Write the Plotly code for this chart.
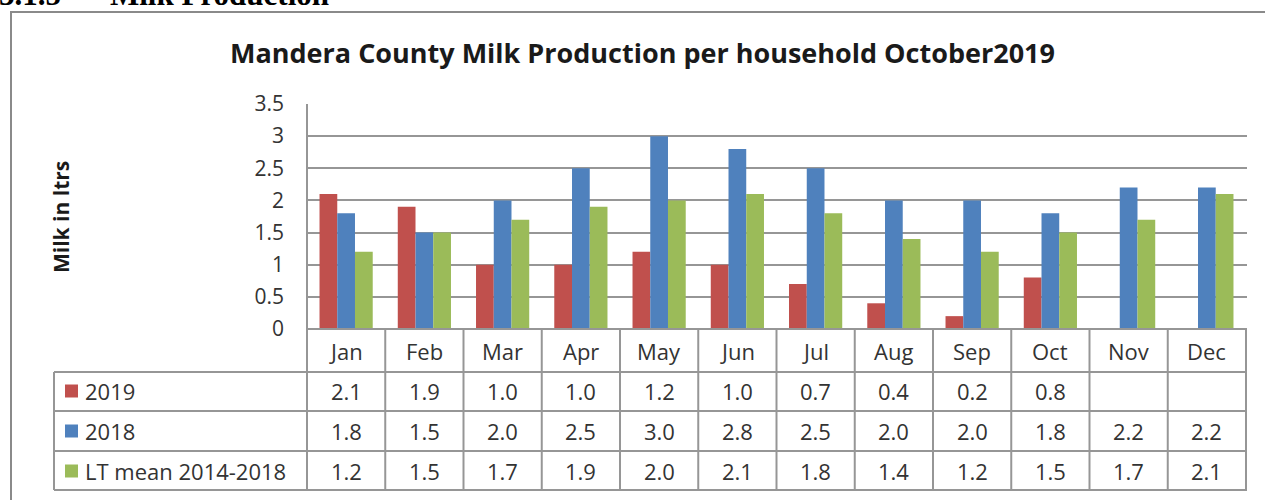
import plotly.graph_objects as go

# Monthly milk production per household (litres)
months = ["Jan", "Feb", "Mar", "Apr", "May", "Jun", "Jul", "Aug", "Sep", "Oct", "Nov", "Dec"]
milk_2019 = [2.1, 1.9, 1.0, 1.0, 1.2, 1.0, 0.7, 0.4, 0.2, 0.8, None, None]
milk_2018 = [1.8, 1.5, 2.0, 2.5, 3.0, 2.8, 2.5, 2.0, 2.0, 1.8, 2.2, 2.2]
milk_lt_mean = [1.2, 1.5, 1.7, 1.9, 2.0, 2.1, 1.8, 1.4, 1.2, 1.5, 1.7, 2.1]

series_names = ["2019", "2018", "LT mean 2014-2018"]
series_values = [milk_2019, milk_2018, milk_lt_mean]
series_colors = ["#C0504D", "#4F81BD", "#9BBB59"]

W, H = 1265, 500
FONT = "Open Sans"
GRID = "#969696"
TEXT = "#333333"
CELL_SIZE = 22


def px(x):
    return x / W


def py(y):
    return 1 - y / H


# plot-area and data-table geometry (pixels)
PL, PR, PT, PB = 307, 1247, 104, 329
TABLE_LEFT = 54
ROW_LINES = [372, 411, 451, 490]
HEADER_MID = 351
ROW_MIDS = [391, 431, 471]

fig = go.Figure()
for name, vals, col in zip(series_names, series_values, series_colors):
    fig.add_trace(go.Bar(x=months, y=vals, name=name, marker=dict(color=col, line=dict(width=0))))

shapes = []
annotations = []

# outer frame of the chart
shapes.append(dict(type="rect", xref="paper", yref="paper",
                   x0=px(11), x1=px(1300), y0=py(520), y1=py(12),
                   line=dict(color="#8a8a8a", width=2), fillcolor="rgba(0,0,0,0)", layer="below"))

# data table: horizontal rules
shapes.append(dict(type="line", xref="paper", yref="paper", x0=px(PL), x1=px(PR), y0=py(PB), y1=py(PB),
                   line=dict(color=GRID, width=2)))
for yl in ROW_LINES:
    shapes.append(dict(type="line", xref="paper", yref="paper", x0=px(TABLE_LEFT), x1=px(PR),
                       y0=py(yl), y1=py(yl), line=dict(color=GRID, width=2)))
# data table: vertical rules at category boundaries
for i in range(len(months)):
    shapes.append(dict(type="line", xref="x", yref="paper", x0=i + 0.5, x1=i + 0.5,
                       y0=py(ROW_LINES[-1]), y1=py(PB), line=dict(color=GRID, width=2)))
# left axis line running through the table, and the table's left edge
shapes.append(dict(type="line", xref="paper", yref="paper", x0=px(PL), x1=px(PL),
                   y0=py(ROW_LINES[-1]), y1=py(PT), line=dict(color=GRID, width=2)))
shapes.append(dict(type="line", xref="paper", yref="paper", x0=px(TABLE_LEFT), x1=px(TABLE_LEFT),
                   y0=py(ROW_LINES[-1]), y1=py(ROW_LINES[0]), line=dict(color=GRID, width=2)))

# month header row
for m in months:
    annotations.append(dict(x=m, xref="x", y=py(HEADER_MID), yref="paper", text=m, showarrow=False,
                            xanchor="center", yanchor="middle",
                            font=dict(family=FONT, size=CELL_SIZE, color=TEXT)))

# series rows: legend key, name and values
for name, vals, col, ym in zip(series_names, series_values, series_colors, ROW_MIDS):
    shapes.append(dict(type="rect", xref="paper", yref="paper", x0=px(65), x1=px(78),
                       y0=py(ym + 6.5), y1=py(ym - 6.5), fillcolor=col, line=dict(width=0)))
    annotations.append(dict(x=px(83), xref="paper", y=py(ym), yref="paper", text=name, showarrow=False,
                            xanchor="left", yanchor="middle",
                            font=dict(family=FONT, size=CELL_SIZE, color=TEXT)))
    for m, v in zip(months, vals):
        if v is None:
            continue
        annotations.append(dict(x=m, xref="x", y=py(ym), yref="paper", text=f"{v:.1f}", showarrow=False,
                                xanchor="center", yanchor="middle",
                                font=dict(family=FONT, size=CELL_SIZE, color=TEXT)))

# chart title and axis title
annotations.append(dict(x=px(642), xref="paper", y=py(53), yref="paper",
                        text="<b>Mandera County Milk Production per household October2019</b>",
                        xanchor="center", yanchor="middle",
                        showarrow=False, font=dict(family=FONT, size=27, color="#1a1a1a")))
annotations.append(dict(x=px(61), xref="paper", y=py(217), yref="paper", text="<b>Milk in ltrs</b>",
                        xanchor="center", yanchor="middle",
                        textangle=-90, showarrow=False, font=dict(family=FONT, size=21, color="#1a1a1a")))

# section heading above the chart
annotations.append(dict(x=px(-3), xref="paper", y=py(14), yref="paper", text="<b>3.1.5</b>",
                        xanchor="left", yanchor="bottom", showarrow=False,
                        font=dict(family="Liberation Serif", size=31, color="#000000")))
annotations.append(dict(x=px(108), xref="paper", y=py(14), yref="paper", text="<b>Milk Production</b>",
                        xanchor="left", yanchor="bottom", showarrow=False,
                        font=dict(family="Liberation Serif", size=31, color="#000000")))

fig.update_layout(
    width=W, height=H,
    margin=dict(l=0, r=0, t=0, b=0, pad=0, autoexpand=False),
    paper_bgcolor="white", plot_bgcolor="white",
    barmode="group", bargap=0.32, bargroupgap=0,
    showlegend=False,
    shapes=shapes, annotations=annotations,
    xaxis=dict(domain=[px(PL), px(PR)], showticklabels=False, showgrid=False, zeroline=False,
               showline=False, ticks="", automargin=False),
    yaxis=dict(domain=[py(PB), py(PT)], range=[0, 3.5], dtick=0.5,
               showgrid=True, gridcolor=GRID, gridwidth=2, zeroline=False, showline=False,
               ticks="", ticklabelstandoff=22, automargin=False,
               tickfont=dict(family=FONT, size=21, color=TEXT)),
)

fig.write_html("out.html")
